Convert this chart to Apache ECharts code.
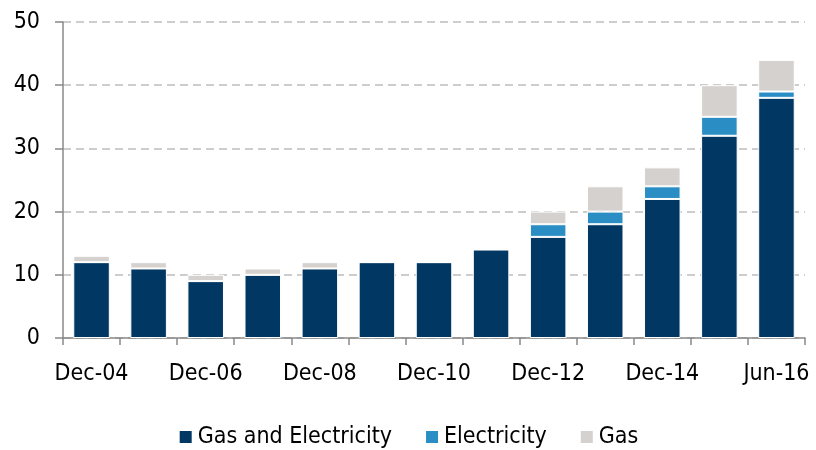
<!DOCTYPE html>
<html><head><meta charset="utf-8">
<script src="https://cdn.jsdelivr.net/npm/echarts@6/dist/echarts.min.js"></script>
<style>html,body{margin:0;padding:0;background:#fff}#c{width:816px;height:450px}</style>
</head><body><div id="c"></div>
<script>
const categories = ['Dec-04','Dec-05','Dec-06','Dec-07','Dec-08','Dec-09','Dec-10','Dec-11','Dec-12','Dec-13','Dec-14','Dec-15','Jun-16'];
const gasAndElectricity = [12, 11, 9, 10, 11, 12, 12, 14, 16, 18, 22, 32, 38];
const electricity = [0, 0, 0, 0, 0, 0, 0, 0, 2, 2, 2, 3, 1];
const gas = [1, 1, 1, 1, 1, 0, 0, 0, 2, 4, 3, 5, 5];
const yTicks = [0, 10, 20, 30, 40, 50];

const FONT = "'DejaVu Sans Condensed','Liberation Sans Narrow',sans-serif";
const chart = echarts.init(document.getElementById('c'), null, {renderer:'canvas'});
const mk = (name, data, color) => ({
  name, type:'bar', stack:'t', data, barWidth:'64%',
  itemStyle:{color, borderColor:'#fff', borderWidth:1},
  emphasis:{disabled:true}
});
chart.setOption({
  animation:false,
  grid:{left:63, right:11, top:22, bottom:112, containLabel:false},
  legend:{
    top:422, left:'center', itemWidth:14, itemHeight:14, itemGap:32,
    icon:'rect', padding:[2,5],
    textStyle:{fontFamily:FONT, fontSize:23, lineHeight:26, color:'#000'},
    data:['Gas and Electricity','Electricity','Gas']
  },
  xAxis:{
    type:'category', data:categories, boundaryGap:true,
    axisLine:{lineStyle:{color:'#898989', width:1.5}},
    axisTick:{show:true, alignWithLabel:false, interval:0, length:7, lineStyle:{color:'#898989', width:1.5}},
    axisLabel:{interval:1, margin:25, fontFamily:FONT, fontSize:23, color:'#000'}
  },
  yAxis:{
    type:'value', min:yTicks[0], max:yTicks[yTicks.length-1], interval:10,
    axisLine:{show:true, lineStyle:{color:'#898989', width:1.5}},
    axisTick:{show:true, length:8, inside:false, lineStyle:{color:'#898989', width:1.5}},
    axisLabel:{margin:23, fontFamily:FONT, fontSize:23, color:'#000'},
    splitLine:{show:true, lineStyle:{color:'#bdbdbd', width:1.5, type:[8,5]}}
  },
  series:[
    mk('Gas and Electricity', gasAndElectricity, '#003763'),
    mk('Electricity', electricity, '#2a8dc4'),
    mk('Gas', gas, '#d5d1ce')
  ]
});
</script></body></html>
